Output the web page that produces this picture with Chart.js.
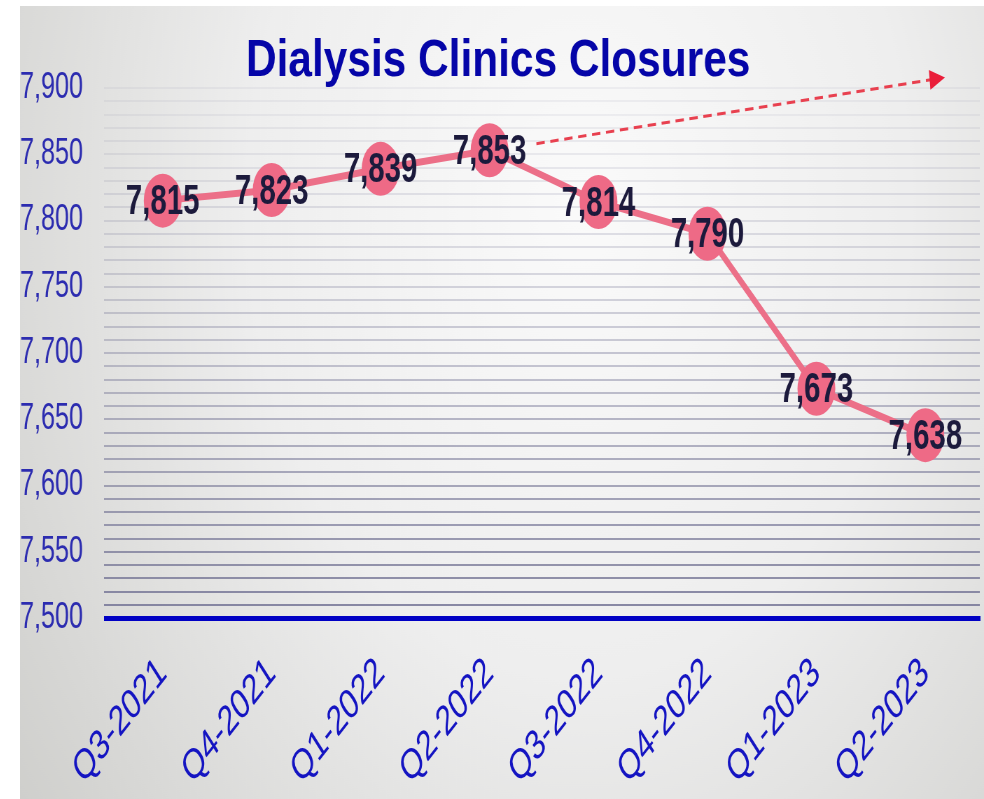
<!DOCTYPE html>
<html><head><meta charset="utf-8">
<script src="https://cdn.jsdelivr.net/npm/chart.js@4/dist/chart.umd.min.js"></script>
<style>
html,body{margin:0;padding:0;background:#fff;overflow:hidden}
#c{position:absolute;left:20px;top:6px;display:block}
</style></head><body>
<canvas id="c" width="1377" height="793" style="width:964px;height:793px"></canvas>
<script>
// ---- data ----
const quarters = ['Q3-2021','Q4-2021','Q1-2022','Q2-2022','Q3-2022','Q4-2022','Q1-2023','Q2-2023'];
const clinics  = [7815, 7823, 7839, 7853, 7814, 7790, 7673, 7638];
const yMin = 7500, yMax = 7900, yLabelStep = 50, yGridStep = 10;
const trendFrom = [3.43, 7858];   // [category index, value]
const trendTo   = [7.18, 7908];
const chartTitle = 'Dialysis Clinics Closures';

const fmt = v => v.toLocaleString('en-US');

const bgPlugin = {
  id: 'bg',
  beforeDraw(chart) {
    const ctx = chart.ctx, w = chart.width, h = chart.height;
    ctx.save();
    const g = ctx.createRadialGradient(w*0.58, h*0.25, 20, w*0.58, h*0.25, w*0.75);
    g.addColorStop(0, '#fafafa');
    g.addColorStop(0.45, '#eeeeee');
    g.addColorStop(1, '#cdcdca');
    ctx.fillStyle = g;
    ctx.fillRect(0, 0, w, h);
    ctx.restore();
  }
};

const decoPlugin = {
  id: 'deco',
  afterDraw(chart) {
    const ctx = chart.ctx, xs = chart.scales.x, ys = chart.scales.y;
    const step = xs.getPixelForValue(1) - xs.getPixelForValue(0);
    const px = idx => xs.getPixelForValue(Math.floor(idx)) + (idx - Math.floor(idx)) * step;
    // data labels
    const meta = chart.getDatasetMeta(0);
    ctx.save();
    ctx.font = 'bold 42px "Liberation Sans", Arial, sans-serif';
    ctx.fillStyle = '#1c1a3c';
    ctx.textAlign = 'center';
    ctx.textBaseline = 'middle';
    meta.data.forEach((pt, i) => {
      ctx.fillText(fmt(clinics[i]), pt.x, pt.y + 2);
    });
    ctx.restore();
    // trend arrow
    const x1 = px(trendFrom[0]), y1 = ys.getPixelForValue(trendFrom[1]);
    const x2 = px(trendTo[0]),   y2 = ys.getPixelForValue(trendTo[1]);
    const ang = Math.atan2(y2 - y1, x2 - x1);
    ctx.save();
    ctx.strokeStyle = '#e8404f';
    ctx.lineWidth = 3;
    ctx.setLineDash([12, 8]);
    ctx.beginPath();
    ctx.moveTo(x1, y1);
    ctx.lineTo(x2 - 18*Math.cos(ang), y2 - 18*Math.sin(ang));
    ctx.stroke();
    ctx.setLineDash([]);
    ctx.fillStyle = '#ea1e3a';
    ctx.beginPath();
    ctx.moveTo(x2, y2);
    ctx.lineTo(x2 - 22*Math.cos(ang) + 10*Math.sin(ang), y2 - 22*Math.sin(ang) - 10*Math.cos(ang));
    ctx.lineTo(x2 - 22*Math.cos(ang) - 10*Math.sin(ang), y2 - 22*Math.sin(ang) + 10*Math.cos(ang));
    ctx.closePath();
    ctx.fill();
    ctx.restore();
    // title
    ctx.save();
    const sx = 1.165;
    ctx.scale(sx, 1);
    ctx.font = 'bold 52px "Liberation Sans", Arial, sans-serif';
    ctx.fillStyle = '#0505a8';
    ctx.textAlign = 'center';
    ctx.textBaseline = 'alphabetic';
    ctx.fillText(chartTitle, 683 / sx, 70);
    ctx.restore();
  }
};

new Chart(document.getElementById('c'), {
  type: 'line',
  data: {
    labels: quarters,
    datasets: [{
      data: clinics,
      borderColor: '#ec6f88',
      borderWidth: 7,
      backgroundColor: '#ee6a86',
      pointBackgroundColor: '#ee6a86',
      pointBorderWidth: 0,
      pointRadius: 27,
      pointHoverRadius: 27,
      tension: 0,
      fill: false
    }]
  },
  options: {
    responsive: false,
    animation: false,
    devicePixelRatio: 1,
    layout: { autoPadding: false, padding: { top: 82, right: 6, left: 0, bottom: 0 } },
    plugins: { legend: { display: false }, title: { display: false }, tooltip: { enabled: false } },
    scales: {
      x: {
        offset: true,
        grid: { display: false },
        border: { display: true, color: '#0000c4', width: 5 },
        ticks: {
          autoSkip: false,
          maxRotation: 42, minRotation: 42,
          color: '#1414c2',
          padding: 22,
          font: { family: '"Liberation Sans", Arial, sans-serif', size: 42 }
        },
        afterFit(s) { s.height = 181; s.paddingLeft = 0; s.paddingRight = 0; }
      },
      y: {
        min: yMin, max: yMax,
        border: { display: false },
        grid: {
          drawTicks: true,
          tickLength: 6,
          lineWidth: ctx => ctx.tick && ctx.tick.value === yMin ? 5 : 2,
          color: ctx => {
            if (!ctx.tick) return 'rgba(0,0,0,0)';
            const v = ctx.tick.value;
            if (v === yMin) return '#0000c4';
            const t = (v - yMin) / (yMax - yMin);
            const a = 0.08 + 0.8 * Math.pow(1 - t, 1.4);
            return `rgba(118,118,150,${a.toFixed(3)})`;
          }
        },
        ticks: {
          stepSize: yGridStep,
          autoSkip: false,
          crossAlign: 'far',
          padding: 0,
          color: '#2c2cb0',
          font: { family: '"Liberation Sans", Arial, sans-serif', size: 36 },
          callback: v => (v % yLabelStep === 0 ? fmt(v) : '')
        },
        afterFit(s) { s.width = 126; }
      }
    }
  },
  plugins: [bgPlugin, decoPlugin]
});
</script>
</body></html>
